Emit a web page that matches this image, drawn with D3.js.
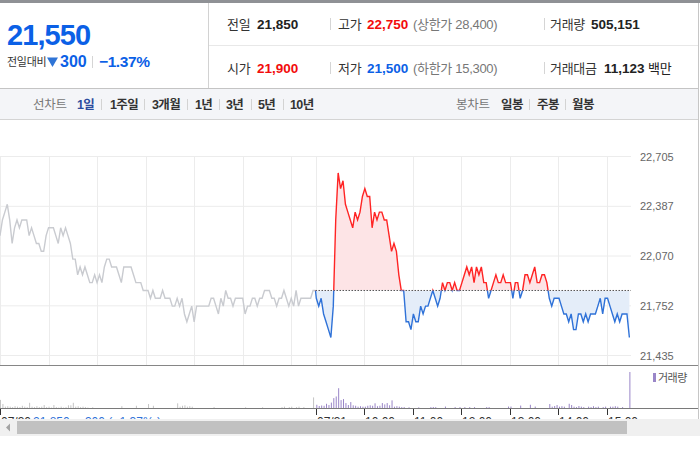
<!DOCTYPE html>
<meta charset="utf-8">
<script src="https://d3js.org/d3.v7.min.js"></script>
<style>
  body { margin: 0; background: #fff; }
  svg text { font-family: "Liberation Sans", "Noto Sans CJK KR", sans-serif; }
</style>
<div id="my_dataviz"></div>
<script>

  // ---- data ----
  const prevClose = 21850
  const yTicks = [22705, 22387, 22070, 21752, 21435]

  // yesterday (07/30), one value every 3 minutes from 09:00
  const yesterdayPrices = [
    22200, 22300, 22350, 22400, 22300, 22150, 22250, 22300, 22250, 22300,
    22300, 22300, 22200, 22250, 22200, 22150, 22150, 22100, 22100, 22200,
    22250, 22250, 22250, 22200, 22150, 22250, 22200, 22250, 22200, 22150,
    22050, 22050, 21950, 22000, 21950, 22000, 21950, 21900, 21900, 21950,
    21900, 21950, 21900, 22000, 22050, 22050, 22000, 22000, 22000, 21950,
    21900, 22000, 22000, 22000, 22000, 21950, 21900, 21900, 21900, 21850,
    21850, 21850, 21800, 21850, 21800, 21800, 21800, 21850, 21800, 21800,
    21800, 21750, 21750, 21800, 21750, 21800, 21700, 21650, 21700, 21750,
    21650, 21750, 21750, 21750, 21750, 21750, 21750, 21800, 21800, 21750,
    21700, 21800, 21750, 21850, 21800, 21800, 21750, 21800, 21800, 21800,
    21800, 21700, 21750, 21750, 21800, 21800, 21750, 21800, 21800, 21850,
    21850, 21850, 21800, 21800, 21750, 21800, 21800, 21850, 21800, 21750,
    21800, 21750, 21850, 21750, 21800, 21800, 21800, 21800, 21800, 21850
  ]

  // today (07/31), one value every 3 minutes from 09:01
  const todayPrices = [
    21800, 21750, 21800, 21700, 21650, 21600, 21550, 21750, 22300, 22600,
    22500, 22550, 22400, 22350, 22300, 22250, 22350, 22300, 22350, 22450,
    22500, 22450, 22450, 22250, 22350, 22300, 22350, 22350, 22300, 22300,
    22200, 22100, 22150, 22100, 21950, 21850, 21850, 21650, 21650, 21600,
    21700, 21650, 21650, 21750, 21700, 21750, 21750, 21800, 21850, 21800,
    21750, 21800, 21900, 21850, 21900, 21900, 21850, 21900, 21850, 21850,
    21900, 21950, 22000, 21950, 22000, 21900, 22000, 21950, 22000, 21900,
    21900, 21800, 21850, 21900, 21950, 21900, 21900, 21950, 21900, 21900,
    21900, 21800, 21900, 21900, 21800, 21850, 21950, 21950, 21900, 21950,
    22000, 21900, 21900, 21950, 21950, 21900, 21800, 21750, 21800, 21800,
    21800, 21750, 21700, 21700, 21650, 21700, 21600, 21600, 21700, 21700,
    21650, 21700, 21650, 21700, 21700, 21700, 21750, 21800, 21700, 21800,
    21800, 21750, 21700, 21650, 21700, 21650, 21700, 21700, 21700, 21550
  ]

  const yesterdayVolume = [
    9000, 4500, 1500, 2000, 1500, 1000, 2000, 1500, 1000, 2500,
    1500, 1000, 5800, 1500, 1000, 2000, 1000, 1500, 3300, 1000,
    1500, 500, 3300, 1000, 500, 1500, 500, 1000, 3000, 3000,
    5800, 1500, 2000, 1000, 1500, 1000, 500, 0, 800, 0,
    0, 0, 0, 0, 0, 0, 0, 0, 0, 0,
    2000, 0, 0, 0, 0, 0, 2500, 0, 0, 0,
    0, 4400, 0, 2500, 0, 0, 0, 0, 0, 0,
    0, 0, 0, 5200, 1500, 2500, 3000, 1500, 2000, 1500,
    0, 0, 0, 0, 0, 0, 0, 0, 1000, 0,
    0, 0, 0, 0, 0, 0, 0, 0, 0, 0,
    0, 800, 0, 0, 0, 0, 0, 0, 800, 0,
    0, 0, 0, 0, 0, 0, 1000, 1500, 0, 1000,
    1500, 0, 1000, 1500, 0, 1000, 0, 0, 0, 11800
  ]

  const todayVolume = [
    3600, 2200, 2800, 2500, 4700, 3300, 6000, 11000, 12800, 22000,
    8800, 9900, 5500, 3300, 6600, 3000, 2500, 1500, 2000, 1500,
    1500, 2500, 3000, 2500, 5200, 2000, 2500, 5500, 4000, 5500,
    3000, 8500, 1500, 2000, 1500, 1000, 1000, 0, 800, 0,
    0, 0, 700, 0, 0, 0, 0, 1000, 1100, 1000,
    0, 0, 0, 1600, 0, 0, 0, 1000, 0, 1000,
    0, 1000, 0, 1000, 0, 1000, 0, 0, 0, 0,
    1000, 1000, 0, 0, 0, 0, 0, 0, 0, 1600,
    1600, 0, 0, 0, 2700, 0, 0, 0, 3600, 0,
    1600, 0, 0, 0, 0, 0, 4400, 1500, 2200, 3300,
    1500, 2000, 1500, 0, 4700, 3300, 1500, 1000, 2200, 1500,
    1000, 0, 1500, 1000, 2000, 1000, 1500, 0, 1000, 1500,
    0, 1500, 1500, 2000, 1500, 0, 1000, 0, 0, 40000
  ]

  const hourLabels = ["10:00", "11:00", "12:00", "13:00", "14:00", "15:00"]
  const periodTabs = ["1일", "1주일", "3개월", "1년", "3년", "5년", "10년"]
  const candleTabs = ["일봉", "주봉", "월봉"]

  const W = 700, H = 450
  const blue = "#0b60e6", red = "#f20c0c"

  const svg = d3.select("#my_dataviz")
    .append("svg")
    .attr("width", W)
    .attr("height", H)

  // ---------- header ----------
  svg.append("rect").attr("x", 0).attr("y", 0).attr("width", W).attr("height", 3).attr("fill", "#8f9195")
  svg.append("line").attr("x1", 208.5).attr("x2", 208.5).attr("y1", 3).attr("y2", 88).attr("stroke", "#d2d2d2")
  svg.append("line").attr("x1", 209).attr("x2", 698).attr("y1", 45.5).attr("y2", 45.5).attr("stroke", "#e8e8e8")

  svg.append("text").attr("x", 7).attr("y", 45).text("21,550")
    .attr("fill", blue).style("font-size", "29px").style("font-weight", "bold").style("letter-spacing", "-0.9px")
  svg.append("text").attr("x", 7).attr("y", 66).text("전일대비")
    .attr("fill", "#333").style("font-size", "11px").style("letter-spacing", "-0.3px")
  svg.append("path").attr("d", "M47,57.5L58,57.5L52.5,67Z").attr("fill", "#2f74d6")
  svg.append("text").attr("x", 60).attr("y", 67).text("300")
    .attr("fill", blue).style("font-size", "16px").style("font-weight", "bold")
  svg.append("line").attr("x1", 92.5).attr("x2", 92.5).attr("y1", 56).attr("y2", 68).attr("stroke", "#d5d5d5")
  svg.append("text").attr("x", 99).attr("y", 67).text("−1.37%")
    .attr("fill", blue).style("font-size", "15.5px").style("font-weight", "bold").style("letter-spacing", "-0.4px")

  // info rows
  const infoRows = [
    { y: 29, items: [
      { x: 227, t: "전일", c: "#333" }, { x: 257, t: "21,850", c: "#222", b: true },
      { x: 338, t: "고가", c: "#333" }, { x: 367, t: "22,750", c: red, b: true },
      { x: 413, t: "(상한가 28,400)", c: "#777" },
      { x: 550, t: "거래량", c: "#333" }, { x: 591, t: "505,151", c: "#222", b: true }] },
    { y: 73, items: [
      { x: 227, t: "시가", c: "#333" }, { x: 257, t: "21,900", c: red, b: true },
      { x: 338, t: "저가", c: "#333" }, { x: 367, t: "21,500", c: blue, b: true },
      { x: 413, t: "(하한가 15,300)", c: "#777" },
      { x: 550, t: "거래대금", c: "#333" }, { x: 604, t: "11,123", c: "#222", b: true },
      { x: 648, t: "백만", c: "#222" }] }
  ]
  infoRows.forEach(function (row) {
    row.items.forEach(function (d) {
      svg.append("text").attr("x", d.x).attr("y", row.y).text(d.t)
        .attr("fill", d.c)
        .style("font-size", d.b ? "13.5px" : "13px")
        .style("font-weight", d.b ? "bold" : "normal")
        .style("letter-spacing", d.b ? "0px" : "-0.3px")
    })
    ;[330.5, 544.5].forEach(function (sx) {
      svg.append("line").attr("x1", sx).attr("x2", sx).attr("y1", row.y - 11).attr("y2", row.y + 1).attr("stroke", "#d5d5d5")
    })
  })

  // toolbar
  svg.append("rect").attr("x", 0).attr("y", 88).attr("width", 698).attr("height", 31).attr("fill", "#f4f5f8")
  svg.append("line").attr("x1", 0).attr("x2", 698).attr("y1", 88.5).attr("y2", 88.5).attr("stroke", "#c4c4c4")
  svg.append("line").attr("x1", 0).attr("x2", 698).attr("y1", 119.5).attr("y2", 119.5).attr("stroke", "#d4d4d4")
  svg.append("text").attr("x", 33).attr("y", 109).text("선차트").attr("fill", "#777")
    .style("font-size", "12.5px").style("letter-spacing", "-0.2px")
  const tabX = [77, 110, 152, 195, 226, 258, 290]
  const tabSep = [101.5, 144.5, 187.5, 219.5, 251.5, 283.5]
  periodTabs.forEach(function (t, i) {
    svg.append("text").attr("x", tabX[i]).attr("y", 109).text(t)
      .attr("fill", i === 0 ? "#2c4c9e" : "#333")
      .style("font-size", "12.5px").style("font-weight", "bold").style("letter-spacing", "-0.6px")
  })
  tabSep.forEach(function (sx) {
    svg.append("line").attr("x1", sx).attr("x2", sx).attr("y1", 99).attr("y2", 110).attr("stroke", "#d3d3d3")
  })
  svg.append("text").attr("x", 456).attr("y", 109).text("봉차트").attr("fill", "#777")
    .style("font-size", "12.5px").style("letter-spacing", "-0.2px")
  const candleX = [501, 537, 572]
  candleTabs.forEach(function (t, i) {
    svg.append("text").attr("x", candleX[i]).attr("y", 109).text(t).attr("fill", "#333")
      .style("font-size", "12.5px").style("font-weight", "bold").style("letter-spacing", "-0.6px")
  })
  ;[529.5, 565.5].forEach(function (sx) {
    svg.append("line").attr("x1", sx).attr("x2", sx).attr("y1", 99).attr("y2", 110).attr("stroke", "#d3d3d3")
  })

  // ---------- price chart ----------
  const x = d3.scaleLinear().domain([0, 780]).range([0, 631])
  const y = d3.scaleLinear().domain([21435, 22705]).range([355.5, 156.5])
  const yv = d3.scaleLinear().domain([0, 40000]).range([408, 372])

  const gridMinutes = [0, 60, 120, 180, 240, 300, 360, 390, 450, 510, 570, 630, 690, 750]

  svg.selectAll("vgrid").data(gridMinutes).join("line")
    .attr("x1", d => Math.round(x(d)) + 0.5).attr("x2", d => Math.round(x(d)) + 0.5)
    .attr("y1", y(22705)).attr("y2", 365)
    .attr("stroke", "#ececec")
  svg.selectAll("hgrid").data(yTicks).join("line")
    .attr("x1", 0).attr("x2", 631)
    .attr("y1", d => y(d)).attr("y2", d => y(d))
    .attr("stroke", "#ececec")
  svg.selectAll("ylab").data(yTicks).join("text")
    .attr("x", 640).attr("y", d => y(d) + 4)
    .text(d => d3.format(",")(d))
    .attr("fill", "#666").style("font-size", "11px")

  const yesterday = yesterdayPrices.map((p, i) => ({ t: i * 3, p: p }))
  yesterday.push({ t: 390, p: prevClose })
  const today = [{ t: 390, p: prevClose }].concat(todayPrices.map((p, j) => ({ t: 391 + j * 3, p: p })))

  const line = d3.line().x(d => x(d.t)).y(d => y(d.p))
  const area = d3.area().x(d => x(d.t)).y0(y(prevClose)).y1(d => y(d.p))

  const defs = svg.append("defs")
  defs.append("clipPath").attr("id", "above").append("rect")
    .attr("x", 0).attr("y", 120).attr("width", 640).attr("height", y(prevClose) - 120)
  defs.append("clipPath").attr("id", "below").append("rect")
    .attr("x", 0).attr("y", y(prevClose)).attr("width", 640).attr("height", 365 - y(prevClose))

  svg.append("path").datum(yesterday).attr("d", line)
    .attr("fill", "none").attr("stroke", "#c9cbd0").attr("stroke-width", 1.4)

  svg.append("path").datum(today).attr("d", area).attr("fill", "#fde4e6").attr("clip-path", "url(#above)")
  svg.append("path").datum(today).attr("d", area).attr("fill", "#e4edf9").attr("clip-path", "url(#below)")
  svg.append("line").attr("x1", x(390)).attr("x2", x(780))
    .attr("y1", y(prevClose)).attr("y2", y(prevClose))
    .attr("stroke", "#555").attr("stroke-dasharray", "1.5,1.5")
  svg.append("path").datum(today).attr("d", line).attr("fill", "none")
    .attr("stroke", "#ff2424").attr("stroke-width", 1.4).attr("clip-path", "url(#above)")
  svg.append("path").datum(today).attr("d", line).attr("fill", "none")
    .attr("stroke", "#2f72d8").attr("stroke-width", 1.4).attr("clip-path", "url(#below)")

  // ---------- volume ----------
  svg.append("line").attr("x1", 0).attr("x2", 698).attr("y1", 365.5).attr("y2", 365.5).attr("stroke", "#868686")
  svg.selectAll("vbarY").data(yesterdayVolume).join("rect")
    .attr("x", (d, i) => x(i * 3)).attr("width", 1)
    .attr("y", d => yv(d)).attr("height", d => 408 - yv(d))
    .attr("fill", "#c4c4c4")
  svg.selectAll("vbarT").data(todayVolume).join("rect")
    .attr("x", (d, j) => x(391 + j * 3)).attr("width", 1)
    .attr("y", d => yv(d)).attr("height", d => 408 - yv(d))
    .attr("fill", "#9a86c8")
  svg.append("line").attr("x1", 0).attr("x2", 698).attr("y1", 408.5).attr("y2", 408.5).attr("stroke", "#7a7a7a")

  svg.append("rect").attr("x", 653).attr("y", 373).attr("width", 3).attr("height", 9).attr("fill", "#9a86c8")
  svg.append("text").attr("x", 658).attr("y", 382).text("거래량")
    .attr("fill", "#555").style("font-size", "11px").style("letter-spacing", "-0.5px")

  // time axis ticks + labels
  const tickMinutes = [0, 390, 450, 510, 570, 630, 690, 750]
  svg.selectAll("tick").data(tickMinutes).join("line")
    .attr("x1", d => Math.round(x(d)) + 0.5).attr("x2", d => Math.round(x(d)) + 0.5)
    .attr("y1", 409).attr("y2", 415).attr("stroke", "#333")
  const tickLabels = ["07/30", "07/31"].concat(hourLabels)
  svg.selectAll("tlab").data(tickMinutes).join("text")
    .attr("x", d => Math.round(x(d)) + 1).attr("y", 426)
    .text((d, i) => tickLabels[i])
    .attr("fill", "#333").style("font-size", "12px")
  svg.append("text").attr("x", 33).attr("y", 426).text("21,850 ▼300 ( -1.37% )")
    .attr("fill", "#2f72d8").style("font-size", "12px")

  // scrollbar
  svg.append("rect").attr("x", 0).attr("y", 419).attr("width", W).attr("height", 17).attr("fill", "#f0f0f0")
  svg.append("path").attr("d", "M6,427.5L10,423.5L10,431.5Z").attr("fill", "#a3a3a3")
  svg.append("rect").attr("x", 17).attr("y", 421).attr("width", 610).attr("height", 13).attr("fill", "#c1c1c1")

  // right border
  svg.append("line").attr("x1", 698.5).attr("x2", 698.5).attr("y1", 3).attr("y2", 419).attr("stroke", "#c6c6c6")

</script>
